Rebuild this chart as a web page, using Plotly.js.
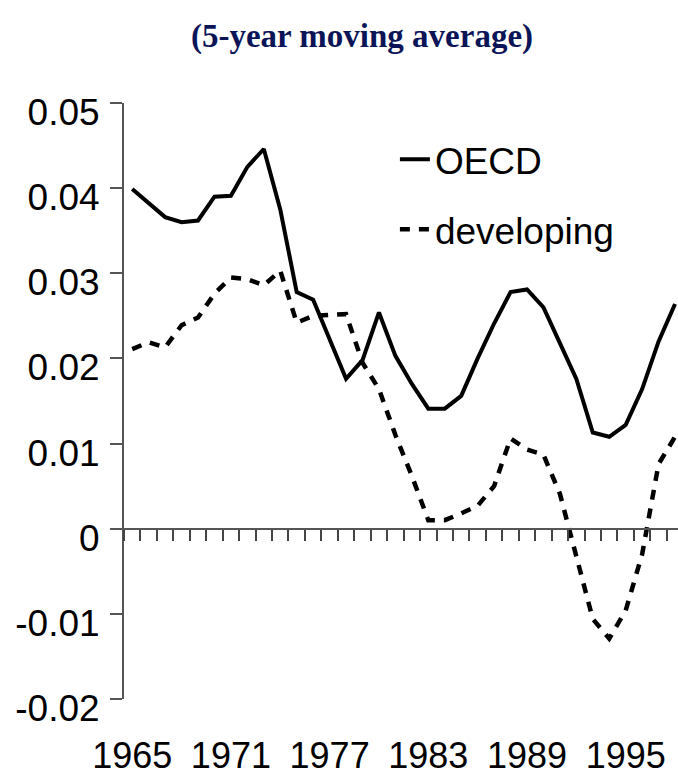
<!DOCTYPE html>
<html>
<head>
<meta charset="utf-8">
<script src="https://cdn.plot.ly/plotly-3.0.1.min.js"></script>
<style>
  html, body { margin: 0; padding: 0; background: #fff; }
  #chart { width: 678px; height: 778px; }
</style>
</head>
<body>
<div id="chart"></div>
<script>
var years = [1965,1966,1967,1968,1969,1970,1971,1972,1973,1974,1975,1976,1977,1978,1979,1980,1981,
             1982,1983,1984,1985,1986,1987,1988,1989,1990,1991,1992,1993,1994,1995,1996,1997,1998];
var oecd = [0.0399,0.0382,0.0366,0.0360,0.0362,0.0390,0.0391,0.0425,0.0446,0.0375,0.0278,0.0269,
            0.0222,0.0176,0.0198,0.0254,0.0203,0.0170,0.0141,0.0141,0.0156,0.0200,0.0241,0.0278,
            0.0281,0.0260,0.0218,0.0176,0.0113,0.0108,0.0122,0.0164,0.0220,0.0264];
var developing = [0.0211,0.0219,0.0213,0.0239,0.0248,0.0276,0.0295,0.0293,0.0286,0.0303,0.0242,0.0250,
                  0.0251,0.0252,0.0195,0.0164,0.0110,0.0062,0.0010,0.0010,0.0018,0.0027,0.0050,0.0106,
                  0.0093,0.0087,0.0041,-0.0032,-0.0106,-0.0129,-0.0096,-0.0030,0.0076,0.0108];
var yTickVals = [-0.02,-0.01,0,0.01,0.02,0.03,0.04,0.05];
var yTickText = ['-0.02','-0.01','0','0.01','0.02','0.03','0.04','0.05'];
var xLabelVals = [1965,1971,1977,1983,1989,1995];
var xLabelText = ['1965','1971','1977','1983','1989','1995'];
var titleText = '(5-year moving average)';

var font = 'Liberation Sans, Arial, sans-serif';
var xRange = [1964.5, 1998.18];
var yRange = [-0.02, 0.05];

var traces = [
  { x: years, y: oecd, name: 'OECD', type: 'scatter', mode: 'lines',
    xaxis: 'x', yaxis: 'y', legendgroup: 'a',
    line: { color: '#000', width: 4 } },
  { x: years, y: developing, name: 'developing', type: 'scatter', mode: 'lines',
    xaxis: 'x2', yaxis: 'y', legendgroup: 'b',
    line: { color: '#000', width: 4.5, dash: '10px,9px' } }
];

var layout = {
  width: 678, height: 778,
  margin: { l: 124, r: 0, t: 103, b: 79 },
  paper_bgcolor: '#fff', plot_bgcolor: '#fff',
  title: { text: titleText, x: 362/678, xanchor: 'center', xref: 'container',
           y: 1 - 35/778, yanchor: 'middle', yref: 'container',
           font: { family: 'Liberation Serif, Times New Roman, serif', size: 33, color: '#0c1458', weight: 'bold' } },
  showlegend: true,
  legend: { x: 0.489, xanchor: 'left', y: 0.957, yanchor: 'top',
            font: { family: font, size: 37, color: '#000' },
            bgcolor: 'rgba(0,0,0,0)', traceorder: 'grouped', tracegroupgap: 19 },
  xaxis: { range: xRange, showline: false, showgrid: false, zeroline: false,
           tickmode: 'array', tickvals: xLabelVals, ticktext: xLabelText,
           ticks: 'outside', ticklen: 25, tickcolor: 'rgba(0,0,0,0)',
           tickfont: { family: font, size: 36, color: '#000' } },
  xaxis2: { range: xRange, matches: 'x', overlaying: 'x', anchor: 'free', position: 2/7,
            showline: true, linecolor: '#555', linewidth: 2,
            showgrid: false, zeroline: false, showticklabels: false,
            tickmode: 'linear', tick0: 1964.5, dtick: 1,
            ticks: 'outside', ticklen: 11, tickwidth: 2, tickcolor: '#444' },
  yaxis: { range: yRange, showline: true, linecolor: '#555', linewidth: 2,
           showgrid: false, zeroline: false,
           tickmode: 'array', tickvals: yTickVals, ticktext: yTickText,
           ticks: 'outside', ticklen: 12, tickwidth: 2, tickcolor: '#555',
           ticklabelshift: 9, ticklabelstandoff: 3,
           tickfont: { family: font, size: 37, color: '#000' } }
};

Plotly.newPlot('chart', traces, layout, { displayModeBar: false, staticPlot: true });
</script>
</body>
</html>
